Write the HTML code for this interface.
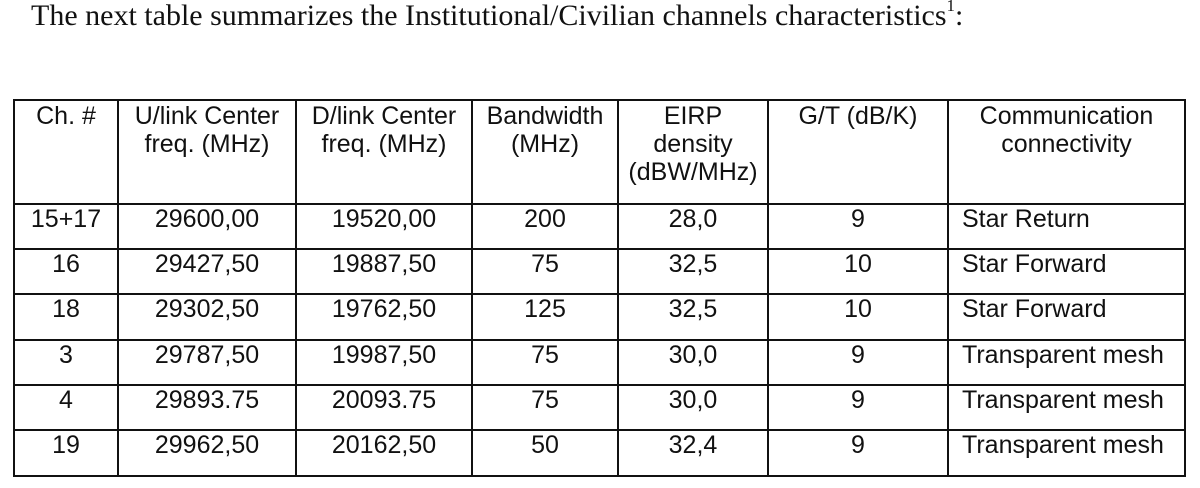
<!DOCTYPE html><html><head><style>
body{margin:0;width:1200px;height:488px;background:#fff;position:relative;overflow:hidden;font-family:"Liberation Sans",Arial,sans-serif;color:#111}
.t{position:absolute;left:31px;top:-1px;font-family:"Liberation Serif",serif;font-size:30px;white-space:nowrap}
.h{position:absolute;background:#111;height:2px}
.v{position:absolute;background:#111;width:2px;top:100px;height:377px}
.c{position:absolute;font-size:25px;line-height:28px;text-align:center;white-space:nowrap}
.l{text-align:left}
</style></head><body>
<div class="t">The next table summarizes the Institutional/Civilian channels characteristics<sup style="font-size:17px;vertical-align:top;position:relative;top:-3px">1</sup>:</div>
<div class="h" style="left:13px;width:1173px;top:99px"></div>
<div class="h" style="left:13px;width:1173px;top:203px"></div>
<div class="h" style="left:13px;width:1173px;top:248px"></div>
<div class="h" style="left:13px;width:1173px;top:293px"></div>
<div class="h" style="left:13px;width:1173px;top:339px"></div>
<div class="h" style="left:13px;width:1173px;top:384px"></div>
<div class="h" style="left:13px;width:1173px;top:429px"></div>
<div class="h" style="left:13px;width:1173px;top:475px"></div>
<div class="v" style="left:13px"></div><div class="v" style="left:117px"></div><div class="v" style="left:295px"></div><div class="v" style="left:471px"></div><div class="v" style="left:617px"></div><div class="v" style="left:767px"></div><div class="v" style="left:947px"></div><div class="v" style="left:1184px"></div>
<div class="c" style="left:14px;width:104px;top:102px">Ch. #</div>
<div class="c" style="left:118px;width:178px;top:102px">U/link Center<br>freq. (MHz)</div>
<div class="c" style="left:296px;width:176px;top:102px">D/link Center<br>freq. (MHz)</div>
<div class="c" style="left:472px;width:146px;top:102px">Bandwidth<br>(MHz)</div>
<div class="c" style="left:618px;width:150px;top:102px">EIRP<br>density<br>(dBW/MHz)</div>
<div class="c" style="left:768px;width:180px;top:102px">G/T (dB/K)</div>
<div class="c" style="left:948px;width:237px;top:102px">Communication<br>connectivity</div>
<div id="rows"></div>
<script>
var d=[["15+17","29600,00","19520,00","200","28,0","9","Star Return"],["16","29427,50","19887,50","75","32,5","10","Star Forward"],["18","29302,50","19762,50","125","32,5","10","Star Forward"],["3","29787,50","19987,50","75","30,0","9","Transparent mesh"],["4","29893.75","20093.75","75","30,0","9","Transparent mesh"],["19","29962,50","20162,50","50","32,4","9","Transparent mesh"]];
var L=[14,118,296,472,618,768,948],W=[104,178,176,146,150,180,237],T=[205,250,295,341,386,431],h="";
d.forEach(function(r,i){r.forEach(function(s,j){h+='<div class="c'+(j==6?' l':'')+'" style="left:'+(j==6?962:L[j])+'px;width:'+W[j]+'px;top:'+T[i]+'px">'+s+'</div>'})});
document.getElementById("rows").innerHTML=h;
</script>
</body></html>
